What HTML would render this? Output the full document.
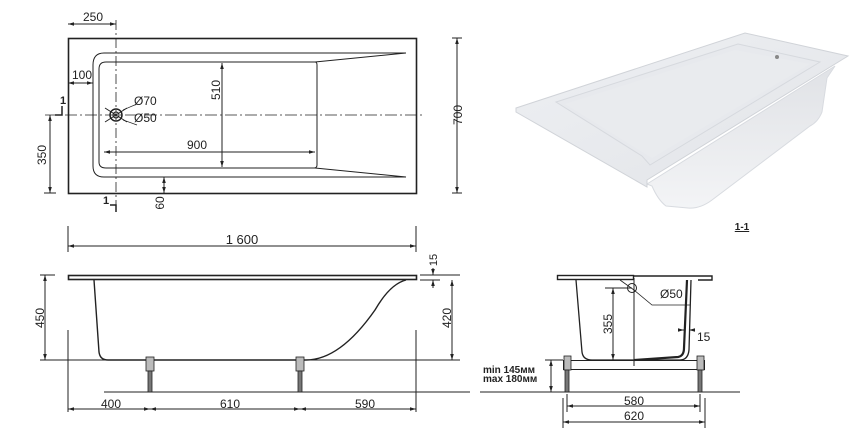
<!DOCTYPE html>
<html><head><meta charset="utf-8"><style>
html,body{margin:0;padding:0;background:#fff;}
svg{display:block;font-family:"Liberation Sans",Arial,sans-serif;}
</style></head><body>
<svg width="861" height="444" viewBox="0 0 861 444" xmlns="http://www.w3.org/2000/svg">
<defs>
<marker id="a" viewBox="0 0 10 10" refX="10" refY="5" markerWidth="6" markerHeight="6" orient="auto-start-reverse"><path d="M0,2 L10,5 L0,8z" fill="#222"/></marker>
<linearGradient id="g1" x1="0" y1="0" x2="1" y2="1"><stop offset="0" stop-color="#eef0f3"/><stop offset="1" stop-color="#e2e4e8"/></linearGradient>
<linearGradient id="g2" x1="0" y1="0" x2="0" y2="1"><stop offset="0" stop-color="#e0e2e6"/><stop offset="1" stop-color="#f3f4f6"/></linearGradient>
</defs>
<g stroke="#222" fill="none" stroke-width="1">
<rect x="68.5" y="38.5" width="348" height="155" stroke-width="1.6"/>
<path d="M406,53 L104,53 Q93,53 93,65 L93,166 Q93,177 104,177 L406,177"/>
<path d="M315,62 L106,62 Q99,62 99,69 L99,162 Q99,168 106,168 L315,168" />
<path d="M315,62 Q317,62 317,65 L317,165 Q317,168 314,168"/>
<path d="M315,62 L406,53 M315,168 L406,177"/>
<path d="M45,115 L425,115" stroke-dasharray="12,3,2,3" stroke-width="0.8"/>
<path d="M116,20 L116,210" stroke-dasharray="10,3,2,3" stroke-width="0.8"/>
<circle cx="116" cy="115" r="6" stroke-width="1.5"/><circle cx="116" cy="115" r="3"/>
<path d="M105,108 L127,122 M105,122 L127,108"/>
<path d="M123,110 L137,104 M123,120 L137,125" stroke-width="0.7"/>
<line x1="68" y1="24" x2="116" y2="24" marker-start="url(#a)" marker-end="url(#a)"/>
<line x1="68" y1="83" x2="93" y2="83" marker-start="url(#a)" marker-end="url(#a)"/>
<line x1="222" y1="63" x2="222" y2="167" marker-start="url(#a)" marker-end="url(#a)"/>
<line x1="104" y1="152" x2="315" y2="152" marker-start="url(#a)" marker-end="url(#a)"/>
<line x1="164" y1="177" x2="164" y2="193" marker-start="url(#a)" marker-end="url(#a)"/>
<line x1="50" y1="115" x2="50" y2="193" marker-start="url(#a)" marker-end="url(#a)"/>
<line x1="44" y1="193" x2="56" y2="193"/>
<line x1="457" y1="38" x2="457" y2="193" marker-start="url(#a)" marker-end="url(#a)"/>
<line x1="452" y1="38" x2="462" y2="38"/><line x1="452" y1="193" x2="462" y2="193"/>
<path d="M55,115 L62,115 L62,106" stroke-width="1.5"/>
<path d="M110,205 L116,205 L116,212" stroke-width="1.5"/>
<line x1="68" y1="226" x2="68" y2="252"/><line x1="416" y1="226" x2="416" y2="252"/>
<line x1="68" y1="246" x2="416" y2="246" marker-start="url(#a)" marker-end="url(#a)"/>
<rect x="68.5" y="275.5" width="348" height="4" stroke-width="1.6"/>
<path d="M94,280 L99,352 Q100,360 108,360 L306,360 Q340,360 375,310 Q390,284 406,280" stroke-width="1.4"/>
<line x1="40" y1="360" x2="460" y2="360"/>
<line x1="104" y1="392" x2="470" y2="392"/>
<line x1="68" y1="330" x2="68" y2="412"/><line x1="416" y1="330" x2="416" y2="412"/>
<line x1="45" y1="275" x2="45" y2="360" marker-start="url(#a)" marker-end="url(#a)"/>
<line x1="40" y1="275" x2="55" y2="275"/>
<line x1="452" y1="280" x2="452" y2="360" marker-start="url(#a)" marker-end="url(#a)"/>
<line x1="420" y1="275" x2="460" y2="275"/><line x1="420" y1="280" x2="440" y2="280"/>
<line x1="433" y1="268" x2="433" y2="275" marker-end="url(#a)"/><line x1="433" y1="288" x2="433" y2="280" marker-end="url(#a)"/>
<line x1="68" y1="409" x2="150" y2="409" marker-start="url(#a)" marker-end="url(#a)"/>
<line x1="150" y1="409" x2="300" y2="409" marker-start="url(#a)" marker-end="url(#a)"/>
<line x1="300" y1="409" x2="416" y2="409" marker-start="url(#a)" marker-end="url(#a)"/>
<rect x="557.5" y="275.5" width="76" height="4" stroke-width="1.4"/>
<path d="M634,276 L712,276 L712,280 L698,280" stroke-width="1.4"/>
<path d="M576,280 L582,352 Q583,360 592,360 L680,360 Q688,360 689,350 L691,280" stroke-width="1.3"/>
<path d="M634,360 L678,357 Q684,356 684,348 L687,280" stroke-width="2.2"/>
<line x1="634" y1="278" x2="634" y2="366"/>
<circle cx="632" cy="288" r="4.5"/>
<path d="M620,280 L634,290 L652,305 L690,305" stroke-width="0.8"/>
<rect x="563.5" y="360.5" width="141" height="9"/>
<line x1="480" y1="392" x2="740" y2="392"/>
<line x1="613" y1="288" x2="613" y2="360" marker-start="url(#a)" marker-end="url(#a)"/>
<line x1="605" y1="288" x2="632" y2="288"/>
<line x1="678" y1="330" x2="684" y2="330" marker-end="url(#a)"/><line x1="695" y1="330" x2="689" y2="330" marker-end="url(#a)"/>
<line x1="551" y1="360" x2="551" y2="392" marker-start="url(#a)" marker-end="url(#a)"/>
<line x1="545" y1="360" x2="563" y2="360"/>
<line x1="567" y1="394" x2="567" y2="412"/><line x1="700" y1="394" x2="700" y2="412"/>
<line x1="563" y1="398" x2="563" y2="428"/><line x1="705" y1="398" x2="705" y2="428"/>
<line x1="567" y1="406" x2="700" y2="406" marker-start="url(#a)" marker-end="url(#a)"/>
<line x1="563" y1="422" x2="705" y2="422" marker-start="url(#a)" marker-end="url(#a)"/>
</g>
<g fill="#bbb" stroke="#222" stroke-width="0.8">
<rect x="146" y="357" width="8" height="14"/><rect x="148" y="371" width="4" height="21" fill="#777"/>
<rect x="296" y="357" width="8" height="14"/><rect x="298" y="371" width="4" height="21" fill="#777"/>
<rect x="564" y="356" width="7" height="14"/><rect x="565" y="370" width="4" height="22" fill="#777"/>
<rect x="697" y="356" width="7" height="14"/><rect x="698" y="370" width="4" height="22" fill="#777"/>
</g>
<!-- 3D render -->
<g>
<path d="M647,184 L835,66 L827,78 L822,112 Q818,122 810,126 L712,200 Q700,209 688,208 L666,206 Q658,200 652,186 Z" fill="url(#g2)" stroke="#d8dbe0"/>
<path d="M516,108 L745,33 L848,56 L647,180 L647,187 L516,112 Z" fill="url(#g1)" stroke="#d0d3d8"/>
<path d="M556,102 L738,44 L820,62 L650,165 L642,156 Z" fill="#e7e9ed" stroke="#d6d9de"/>
<path d="M565,104 L735,50 L810,64 L652,158 Z" fill="#e9ebee"/>
<circle cx="777" cy="57" r="2" fill="#888"/>
</g>
<g fill="#222" font-size="12">
<text x="93" y="21" text-anchor="middle">250</text>
<text x="82" y="79" text-anchor="middle">100</text>
<text x="134" y="105">Ø70</text>
<text x="134" y="122">Ø50</text>
<text x="197" y="149" text-anchor="middle">900</text>
<text transform="translate(220,90) rotate(-90)" text-anchor="middle">510</text>
<text transform="translate(46,155) rotate(-90)" text-anchor="middle">350</text>
<text transform="translate(462,115) rotate(-90)" text-anchor="middle">700</text>
<text transform="translate(164,203) rotate(-90)" text-anchor="middle">60</text>
<text x="60" y="104" font-size="11" font-weight="bold">1</text>
<text x="103" y="204" font-size="11" font-weight="bold">1</text>
<text x="242" y="244" text-anchor="middle" font-size="13">1 600</text>
<text transform="translate(44,318) rotate(-90)" text-anchor="middle">450</text>
<text transform="translate(451,318) rotate(-90)" text-anchor="middle">420</text>
<text transform="translate(437,260) rotate(-90)" text-anchor="middle" font-size="11">15</text>
<text x="111" y="408" text-anchor="middle">400</text>
<text x="230" y="408" text-anchor="middle">610</text>
<text x="365" y="408" text-anchor="middle">590</text>
<text x="660" y="298">Ø50</text>
<text transform="translate(612,324) rotate(-90)" text-anchor="middle">355</text>
<text x="697" y="341">15</text>
<text x="634" y="405" text-anchor="middle">580</text>
<text x="634" y="420" text-anchor="middle">620</text>
<text x="483" y="373" font-size="10" font-weight="bold">min 145мм</text>
<text x="483" y="382" font-size="10" font-weight="bold">max 180мм</text>
<text x="742" y="230" text-anchor="middle" font-size="10" font-weight="bold" text-decoration="underline">1-1</text>
</g>
</svg>
</body></html>
